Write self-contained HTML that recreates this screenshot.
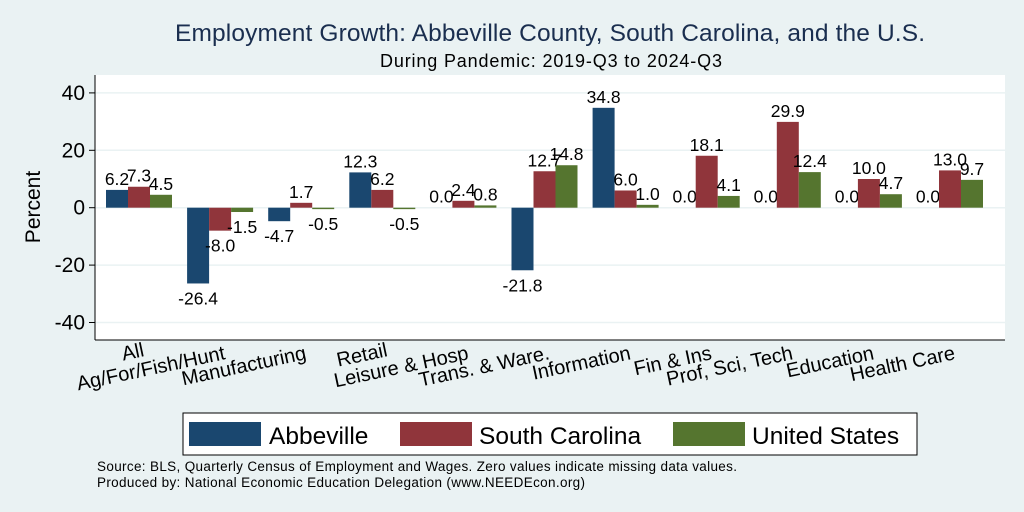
<!DOCTYPE html>
<html><head><meta charset="utf-8"><style>
body{margin:0;background:#eaf2f3;}
svg{display:block;font-family:"Liberation Sans",Arial,sans-serif;}
</style></head><body>
<svg id="c" width="1024" height="512">
<rect x="0" y="0" width="1024" height="512" fill="#eaf2f3"/>
<text x="550" y="41" text-anchor="middle" font-size="24.5" fill="#1a2e4f" textLength="750">Employment Growth: Abbeville County, South Carolina, and the U.S.</text>
<text x="551" y="67" text-anchor="middle" font-size="18" fill="#000" textLength="342">During Pandemic: 2019-Q3 to 2024-Q3</text>
<rect x="95" y="75" width="910" height="265" fill="#fff"/>
<g id="grid"></g><g id="bars"></g><g id="axes"></g>
<text transform="translate(40,207) rotate(-90)" text-anchor="middle" font-size="21">Percent</text>
<rect x="183" y="413" width="734" height="42" fill="#fff" stroke="#000" stroke-width="1"/>
<g><rect x="189" y="422" width="72" height="24" fill="#1a476f"/><text x="269" y="444" font-size="24.5">Abbeville</text></g>
<g><rect x="400" y="422" width="72" height="24" fill="#90353b"/><text x="479" y="444" font-size="24.5">South Carolina</text></g>
<g><rect x="673" y="422" width="72" height="24" fill="#55752f"/><text x="752" y="444" font-size="24.5">United States</text></g>
<text x="97" y="471" font-size="13.5" textLength="640">Source: BLS, Quarterly Census of Employment and Wages. Zero values indicate missing data values.</text>
<text x="97" y="487" font-size="13.5" textLength="488">Produced by: National Economic Education Delegation (www.NEEDEcon.org)</text>
</svg>
<script>
const categories=["All","Ag/For/Fish/Hunt","Manufacturing","Retail","Leisure & Hosp","Trans. & Ware.","Information","Fin & Ins","Prof, Sci, Tech","Education","Health Care"];
const abbeville=[6.2,-26.4,-4.7,12.3,0.0,-21.8,34.8,0.0,0.0,0.0,0.0];
const southCarolina=[7.3,-8.0,1.7,6.2,2.4,12.7,6.0,18.1,29.9,10.0,13.0];
const unitedStates=[4.5,-1.5,-0.5,-0.5,0.8,14.8,1.0,4.1,12.4,4.7,9.7];
const yTicks=[-40,-20,0,20,40];
const NS="http://www.w3.org/2000/svg";
function y(v){return 207.7-v*2.87;}
function xc(i){return 139+i*81.1;}
const bw=22;
function mk(t,a,p){const e=document.createElementNS(NS,t);for(const k in a)e.setAttribute(k,a[k]);p.appendChild(e);return e;}
const grid=document.getElementById('grid'),bars=document.getElementById('bars'),axes=document.getElementById('axes');
yTicks.forEach(t=>{
 const l=mk('line',{x1:95,x2:1005,y1:y(t),y2:y(t),stroke:'#eaf2f3','stroke-width':1.5},grid);
 
 
 const tk=mk('line',{x1:89,x2:95,y1:y(t),y2:y(t),stroke:'#000'},axes);
 
 
 const tx=mk('text',{x:85,y:y(t)+7,'text-anchor':'end','font-size':21},axes);
 tx.textContent=t;
 
 
});
mk('line',{x1:95,x2:95,y1:75,y2:340,stroke:'#000'},axes);
mk('line',{x1:95,x2:1005,y1:340,y2:340,stroke:'#000'},axes);
const series=[[abbeville,'#1a476f'],[southCarolina,'#90353b'],[unitedStates,'#55752f']];
categories.forEach((c,i)=>{
 series.forEach(([arr,col],s)=>{
  const v=arr[i],x=xc(i)+(s-1)*bw-bw/2;
  const top=Math.min(y(v),y(0)),h=Math.abs(y(v)-y(0));
  const r=mk('rect',{x:x,y:top,width:bw,height:Math.max(h,0.01),fill:col},bars);
  
  
  const t=mk('text',{x:x+bw/2,y:v<0?y(v)+21:y(v)-5,'text-anchor':'middle','font-size':17.5},bars);
  t.textContent=v.toFixed(1);
  
  
 });
 const lab=mk('text',{transform:`translate(${xc(i)+6},${c.length<7?356:359}) rotate(-12)`,'text-anchor':'end','font-size':20},axes);
 lab.textContent=c;
 
 
});
</script>
</body></html>
